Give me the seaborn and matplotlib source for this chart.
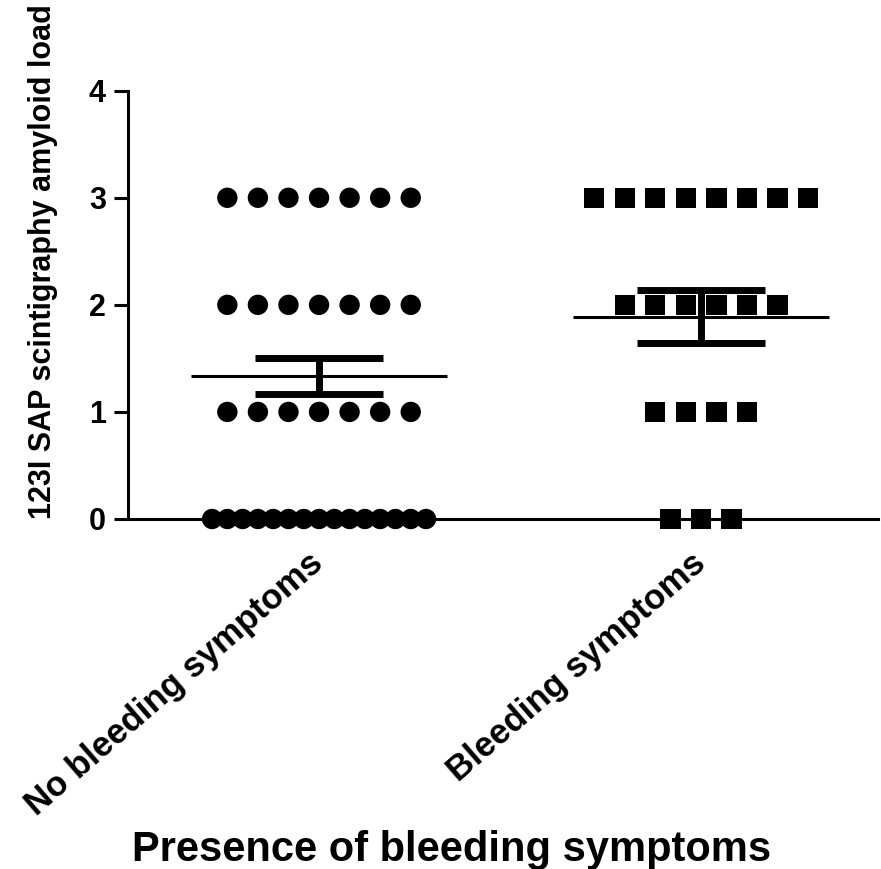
import numpy as np
import pandas as pd
import matplotlib
matplotlib.use("Agg")
import matplotlib.pyplot as plt
import seaborn as sns

# ---- data ----
categories = ["No bleeding symptoms", "Bleeding symptoms"]
levels = [0, 1, 2, 3]
counts_no_bleeding = [15, 7, 7, 7]     # number of patients at score 0,1,2,3
counts_bleeding = [3, 4, 6, 8]
group_means = [1.335, 1.89]
group_sems = [0.165, 0.245]
y_ticks = [0, 1, 2, 3, 4]
y_label = "123I SAP scintigraphy amyloid load"
x_label = "Presence of bleeding symptoms"

# ---- layout of points within a row (column-scatter arrangement) ----
point_step = 0.08
max_span = 0.56
rows = []
for gi, (cat, counts) in enumerate(zip(categories, [counts_no_bleeding, counts_bleeding])):
    for lvl, n in zip(levels, counts):
        step = min(point_step, max_span / (n - 1)) if n > 1 else 0.0
        for i in range(n):
            rows.append({"group": cat, "score": lvl, "xpos": gi + (i - (n - 1) / 2) * step})
df = pd.DataFrame(rows)

sns.set_theme(style="ticks")
plt.rcParams["font.family"] = ["Liberation Sans", "DejaVu Sans"]
plt.rcParams["font.weight"] = "bold"

fig = plt.figure(figsize=(8.81, 8.69), dpi=100)
ax = fig.add_axes([128 / 881, 350 / 869, 750 / 881, 428.3 / 869])

sns.scatterplot(data=df, x="xpos", y="score", hue="group", style="group",
                markers={categories[0]: "o", categories[1]: "s"},
                palette={categories[0]: "black", categories[1]: "black"},
                s=215, edgecolor="none", linewidth=0, legend=False,
                clip_on=False, zorder=3, ax=ax)

for gi, (m, e) in enumerate(zip(group_means, group_sems)):
    ax.hlines(m, gi - 0.334, gi + 0.334, color="black", lw=2.2, zorder=4)
    ax.hlines([m - e, m + e], gi - 0.168, gi + 0.168, color="black", lw=5, zorder=4)
    ax.vlines(gi, m - e, m + e, color="black", lw=5, zorder=4)

ax.set_xlim(-0.5, 1.463)
ax.set_ylim(0, 4)
ax.set_yticks(y_ticks)
ax.set_yticklabels([str(t) for t in y_ticks], fontsize=22, fontweight="bold")
ax.set_xticks([0, 1])
ax.set_xticklabels(categories, fontsize=25, fontweight="bold", rotation=41,
                   ha="right", va="center", rotation_mode="anchor")
ax.tick_params(axis="y", length=10, width=2.2, pad=6, colors="black")
ax.tick_params(axis="x", length=5, width=3, pad=24, colors="black")

sns.despine(ax=ax)
for sp in ["left", "bottom"]:
    ax.spines[sp].set_linewidth(2.2)
    ax.spines[sp].set_color("black")

ax.set_ylabel(y_label, fontsize=22, fontweight="bold", color="black")
ax.yaxis.set_label_coords(-0.093, 0.60)
ax.set_xlabel(x_label, fontsize=30, fontweight="bold", color="black")
ax.xaxis.label.set_va("center")
ax.xaxis.set_label_coords(0.432, -0.773)

fig.savefig("out.png", dpi=100, facecolor="white")
